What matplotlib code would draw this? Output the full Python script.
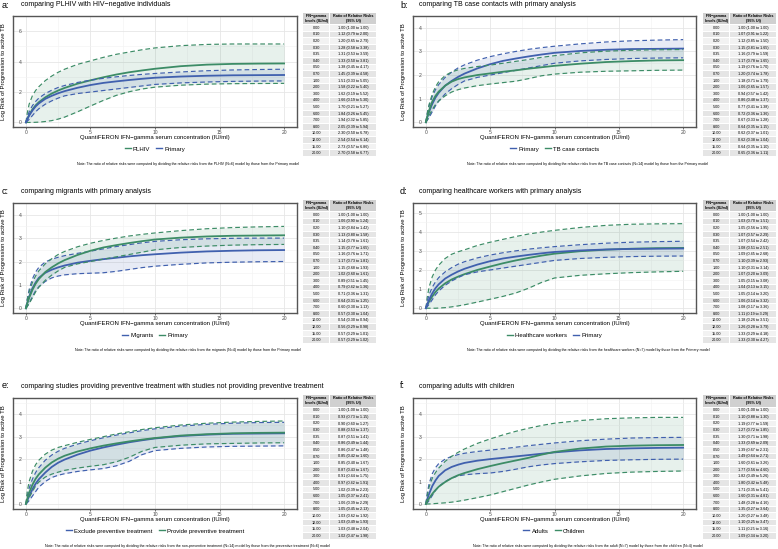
import matplotlib
matplotlib.use('Agg')
from matplotlib import pyplot as plt
from matplotlib.patches import Rectangle
from matplotlib.lines import Line2D

plt.rcParams['font.family'] = ['Liberation Sans', 'DejaVu Sans']

W, H = 778, 549
GREEN = '#3c8c66'
BLUE = '#4060ae'

# x grid (IU/ml) for every curve
conc = [0, 0.1, 0.25, 0.5, 0.75, 1, 1.5, 2, 2.5, 3, 4, 5, 6, 7, 8, 9, 10, 12, 14, 16, 18, 20]

# primary model
primary_fit = [0, 0.2, 0.45, 0.78, 1.05, 1.25, 1.55, 1.75, 1.92, 2.06, 2.28, 2.46, 2.6, 2.7, 2.79, 2.87, 2.94, 3.02, 3.07, 3.1, 3.11, 3.12]
primary_hi = [0, 0.35, 0.7, 1.1, 1.38, 1.6, 1.9, 2.12, 2.3, 2.43, 2.63, 2.78, 2.9, 3.0, 3.09, 3.16, 3.22, 3.32, 3.4, 3.45, 3.48, 3.5]
primary_lo = [0, 0.08, 0.2, 0.45, 0.7, 0.9, 1.2, 1.42, 1.6, 1.75, 1.9, 2.0, 2.1, 2.2, 2.3, 2.4, 2.5, 2.6, 2.66, 2.7, 2.72, 2.73]

# a: PLHIV
plhiv_fit = [0, 0.22, 0.5, 0.85, 1.12, 1.33, 1.65, 1.9, 2.1, 2.27, 2.55, 2.77, 2.97, 3.15, 3.3, 3.42, 3.53, 3.7, 3.8, 3.85, 3.87, 3.88]
plhiv_hi = [0, 0.6, 1.2, 1.75, 2.1, 2.35, 2.75, 3.05, 3.3, 3.5, 3.82, 4.05, 4.28, 4.48, 4.63, 4.78, 4.9, 5.05, 5.13, 5.16, 5.16, 5.16]
plhiv_lo = [0, 0, 0, 0, 0.01, 0.02, 0.06, 0.12, 0.22, 0.35, 0.7, 1.08, 1.45, 1.78, 2.02, 2.2, 2.32, 2.45, 2.52, 2.55, 2.56, 2.57]

# b: TB case contacts
contacts_fit = [0, 0.22, 0.5, 0.88, 1.12, 1.3, 1.55, 1.72, 1.83, 1.9, 2.0, 2.07, 2.14, 2.2, 2.27, 2.33, 2.39, 2.48, 2.55, 2.59, 2.62, 2.63]
contacts_hi = [0, 0.35, 0.75, 1.2, 1.5, 1.72, 1.98, 2.13, 2.22, 2.28, 2.36, 2.42, 2.5, 2.58, 2.66, 2.75, 2.82, 2.94, 3.01, 3.05, 3.07, 3.08]
contacts_lo = [0, 0.1, 0.28, 0.55, 0.75, 0.9, 1.12, 1.28, 1.38, 1.45, 1.55, 1.62, 1.68, 1.74, 1.85, 1.97, 2.04, 2.12, 2.16, 2.18, 2.2, 2.21]

# c: migrants
migrants_fit = [0, 0.22, 0.5, 0.85, 1.1, 1.3, 1.52, 1.65, 1.75, 1.83, 1.95, 2.03, 2.1, 2.16, 2.22, 2.27, 2.31, 2.38, 2.43, 2.46, 2.48, 2.49]
migrants_hi = [0, 0.38, 0.8, 1.25, 1.55, 1.75, 1.98, 2.1, 2.18, 2.25, 2.35, 2.44, 2.54, 2.64, 2.72, 2.8, 2.86, 2.93, 2.97, 2.99, 3.0, 3.0]
migrants_lo = [0, 0.08, 0.22, 0.5, 0.75, 0.92, 1.15, 1.3, 1.38, 1.43, 1.48, 1.5, 1.52, 1.58, 1.66, 1.74, 1.8, 1.88, 1.94, 1.97, 1.99, 2.0]

# d: healthcare workers
hcw_fit = [0, 0.15, 0.35, 0.62, 0.85, 1.03, 1.3, 1.5, 1.65, 1.78, 2.0, 2.18, 2.35, 2.5, 2.63, 2.75, 2.85, 2.98, 3.06, 3.11, 3.14, 3.15]
hcw_hi = [0, 0.55, 1.1, 1.65, 2.0, 2.25, 2.6, 2.82, 2.95, 3.05, 3.28, 3.45, 3.6, 3.75, 3.88, 3.98, 4.07, 4.22, 4.33, 4.39, 4.41, 4.42]
hcw_lo = [0, 0, 0, 0, 0, 0.01, 0.03, 0.07, 0.12, 0.18, 0.32, 0.47, 0.62, 0.8, 1.05, 1.35, 1.58, 1.72, 1.8, 1.86, 1.9, 1.93]

# e: preventive treatment
exclude_fit = [0, 0.15, 0.35, 0.65, 0.9, 1.1, 1.4, 1.65, 1.84, 1.98, 2.2, 2.38, 2.52, 2.64, 2.75, 2.84, 2.92, 3.03, 3.09, 3.13, 3.14, 3.15]
exclude_hi = [0, 0.35, 0.7, 1.1, 1.4, 1.62, 1.95, 2.18, 2.35, 2.48, 2.67, 2.82, 2.95, 3.07, 3.17, 3.27, 3.35, 3.47, 3.55, 3.6, 3.63, 3.64]
exclude_lo = [0, 0.05, 0.15, 0.35, 0.55, 0.75, 1.0, 1.18, 1.28, 1.35, 1.45, 1.52, 1.58, 1.7, 1.9, 2.2, 2.38, 2.48, 2.54, 2.57, 2.58, 2.59]
provide_fit = [0, 0.22, 0.5, 0.85, 1.12, 1.32, 1.62, 1.85, 2.02, 2.15, 2.34, 2.48, 2.6, 2.7, 2.79, 2.87, 2.94, 3.05, 3.11, 3.15, 3.17, 3.18]
provide_hi = [0, 0.55, 1.0, 1.45, 1.75, 1.95, 2.22, 2.4, 2.52, 2.6, 2.75, 2.88, 3.0, 3.12, 3.22, 3.32, 3.4, 3.52, 3.6, 3.65, 3.68, 3.7]
provide_lo = [0, 0.1, 0.28, 0.55, 0.8, 0.98, 1.2, 1.33, 1.42, 1.5, 1.6, 1.68, 1.75, 1.88, 2.08, 2.35, 2.52, 2.62, 2.68, 2.7, 2.72, 2.73]

# f: adults vs children
adults_fit = [0, 0.2, 0.45, 0.8, 1.05, 1.25, 1.5, 1.65, 1.75, 1.83, 1.93, 2.0, 2.06, 2.12, 2.18, 2.24, 2.3, 2.39, 2.45, 2.48, 2.5, 2.51]
adults_hi = [0, 0.45, 0.9, 1.35, 1.62, 1.8, 2.0, 2.12, 2.2, 2.26, 2.34, 2.4, 2.46, 2.53, 2.6, 2.66, 2.72, 2.82, 2.89, 2.94, 2.96, 2.97]
adults_lo = [0, 0.05, 0.15, 0.38, 0.6, 0.78, 1.0, 1.15, 1.25, 1.3, 1.35, 1.38, 1.45, 1.55, 1.66, 1.74, 1.8, 1.88, 1.94, 1.97, 1.99, 2.0]
children_fit = [0, 0.1, 0.25, 0.45, 0.62, 0.77, 0.98, 1.15, 1.28, 1.38, 1.55, 1.69, 1.82, 1.94, 2.06, 2.2, 2.32, 2.47, 2.56, 2.6, 2.62, 2.63]
children_hi = [0, 0.35, 0.75, 1.15, 1.4, 1.6, 1.9, 2.12, 2.3, 2.45, 2.7, 2.9, 3.08, 3.24, 3.38, 3.5, 3.6, 3.72, 3.8, 3.84, 3.86, 3.86]
children_lo = [0, 0, 0, 0.01, 0.02, 0.03, 0.05, 0.08, 0.12, 0.17, 0.28, 0.4, 0.55, 0.7, 0.85, 0.98, 1.1, 1.25, 1.36, 1.42, 1.45, 1.47]

# tables
levels = ['0.00', '0.10', '0.20', '0.30', '0.35', '0.40', '0.50', '0.70', '1.00', '2.00',
          '3.00', '4.00', '5.00', '6.00', '7.00', '8.00', '10.00', '12.00', '15.00', '20.00']
ratio_a = ['1.00 (1.00 to 1.00)', '1.12 (0.79 to 2.00)', '1.20 (0.65 to 2.79)', '1.28 (0.58 to 3.38)',
           '1.31 (0.53 to 3.59)', '1.33 (0.50 to 3.81)', '1.38 (0.45 to 4.17)', '1.45 (0.39 to 4.58)',
           '1.51 (0.33 to 5.05)', '1.58 (0.22 to 5.40)', '1.62 (0.19 to 5.52)', '1.66 (0.19 to 5.30)',
           '1.70 (0.21 to 5.27)', '1.84 (0.26 to 5.45)', '1.94 (0.32 to 5.85)', '2.05 (0.39 to 5.94)',
           '2.30 (0.50 to 6.78)', '2.54 (0.54 to 6.14)', '2.73 (0.57 to 6.86)', '2.70 (0.58 to 6.77)']
ratio_b = ['1.00 (1.00 to 1.00)', '1.07 (0.91 to 1.22)', '1.12 (0.85 to 1.50)', '1.15 (0.81 to 1.65)',
           '1.16 (0.79 to 1.59)', '1.17 (0.78 to 1.65)', '1.19 (0.76 to 1.70)', '1.20 (0.74 to 1.78)',
           '1.18 (0.71 to 1.79)', '1.06 (0.65 to 1.57)', '0.94 (0.57 to 1.42)', '0.86 (0.48 to 1.37)',
           '0.77 (0.41 to 1.38)', '0.72 (0.36 to 1.36)', '0.67 (0.33 to 1.28)', '0.64 (0.35 to 1.15)',
           '0.62 (0.37 to 1.01)', '0.62 (0.38 to 1.04)', '0.64 (0.35 to 1.10)', '0.65 (0.36 to 1.11)']
ratio_c = ['1.00 (1.00 to 1.00)', '1.06 (0.90 to 1.24)', '1.10 (0.84 to 1.42)', '1.13 (0.80 to 1.58)',
           '1.14 (0.78 to 1.61)', '1.15 (0.77 to 1.65)', '1.16 (0.76 to 1.71)', '1.17 (0.73 to 1.81)',
           '1.15 (0.68 to 1.93)', '1.02 (0.60 to 1.61)', '0.89 (0.51 to 1.45)', '0.79 (0.42 to 1.36)',
           '0.71 (0.36 to 1.31)', '0.64 (0.31 to 1.25)', '0.60 (0.30 to 1.13)', '0.57 (0.30 to 1.04)',
           '0.54 (0.30 to 0.94)', '0.56 (0.29 to 0.98)', '0.57 (0.29 to 1.01)', '0.57 (0.29 to 1.02)']
ratio_d = ['1.00 (1.00 to 1.00)', '1.03 (0.70 to 1.51)', '1.05 (0.56 to 1.95)', '1.07 (0.57 to 2.29)',
           '1.07 (0.54 to 2.42)', '1.08 (0.51 to 2.51)', '1.09 (0.45 to 2.68)', '1.10 (0.39 to 2.93)',
           '1.10 (0.31 to 3.14)', '1.07 (0.20 to 3.09)', '1.05 (0.15 to 3.08)', '1.04 (0.13 to 3.15)',
           '1.05 (0.14 to 3.20)', '1.06 (0.14 to 3.32)', '1.08 (0.17 to 3.36)', '1.11 (0.19 to 3.29)',
           '1.18 (0.26 to 3.51)', '1.26 (0.28 to 3.79)', '1.33 (0.29 to 4.18)', '1.33 (0.30 to 4.27)']
ratio_e = ['1.00 (1.00 to 1.00)', '0.93 (0.73 to 1.15)', '0.90 (0.60 to 1.27)', '0.88 (0.53 to 1.37)',
           '0.87 (0.51 to 1.41)', '0.86 (0.49 to 1.44)', '0.86 (0.47 to 1.48)', '0.85 (0.42 to 1.60)',
           '0.85 (0.40 to 1.67)', '0.87 (0.43 to 1.67)', '0.91 (0.44 to 1.75)', '0.97 (0.42 to 1.91)',
           '1.02 (0.39 to 2.23)', '1.05 (0.37 to 2.41)', '1.06 (0.39 to 2.29)', '1.05 (0.45 to 2.13)',
           '1.03 (0.62 to 1.92)', '1.03 (0.49 to 1.93)', '1.03 (0.48 to 2.04)', '1.02 (0.47 to 1.98)']
ratio_f = ['1.00 (1.00 to 1.00)', '1.10 (0.88 to 1.30)', '1.19 (0.77 to 1.59)', '1.27 (0.72 to 1.85)',
           '1.30 (0.71 to 1.98)', '1.33 (0.69 to 2.09)', '1.39 (0.67 to 2.31)', '1.49 (0.64 to 2.71)',
           '1.60 (0.61 to 3.26)', '1.77 (0.56 to 4.60)', '1.82 (0.49 to 5.26)', '1.80 (0.42 to 5.48)',
           '1.71 (0.35 to 5.41)', '1.60 (0.31 to 4.81)', '1.48 (0.28 to 4.16)', '1.35 (0.27 to 3.64)',
           '1.20 (0.27 to 3.48)', '1.10 (0.25 to 3.47)', '1.11 (0.25 to 3.16)', '1.09 (0.34 to 3.20)']

NOTE = 'Note: The ratio of relative risks were computed by dividing the relative risks from the %s model by those from the %s model'

panels = [
    dict(tag='a:', title='comparing PLHIV with HIV\u2212negative individuals', col=0, row=0,
         ylim=(-0.3, 6.3), yticks=[0, 2, 4, 6],
         series=[('PLHIV', GREEN, plhiv_fit, plhiv_lo, plhiv_hi), ('Primary', BLUE, primary_fit, primary_lo, primary_hi)],
         note=NOTE % ('PLHIV (N=6)', 'Primary'), ratios=ratio_a),
    dict(tag='b:', title='comparing TB case contacts with primary analysis', col=1, row=0,
         ylim=(-0.2, 4.2), yticks=[0, 1, 2, 3, 4],
         series=[('Primary', BLUE, primary_fit, primary_lo, primary_hi), ('TB case contacts', GREEN, contacts_fit, contacts_lo, contacts_hi)],
         note=NOTE % ('TB case contacts (N=14)', 'Primary'), ratios=ratio_b),
    dict(tag='c:', title='comparing migrants with primary analysis', col=0, row=1,
         ylim=(-0.2, 4.2), yticks=[0, 1, 2, 3, 4],
         series=[('Migrants', BLUE, migrants_fit, migrants_lo, migrants_hi), ('Primary', GREEN, primary_fit, primary_lo, primary_hi)],
         note=NOTE % ('migrants (N=4)', 'Primary'), ratios=ratio_c),
    dict(tag='d:', title='comparing healthcare workers with primary analysis', col=1, row=1,
         ylim=(-0.25, 5.25), yticks=[0, 1, 2, 3, 4, 5],
         series=[('Healthcare workers', GREEN, hcw_fit, hcw_lo, hcw_hi), ('Primary', BLUE, primary_fit, primary_lo, primary_hi)],
         note=NOTE % ('healthcare workers (N=7)', 'Primary'), ratios=ratio_d),
    dict(tag='e:', title='comparing studies providing preventive treatment with studies not providing preventive treatment', col=0, row=2,
         ylim=(-0.225, 4.725), yticks=[0, 1, 2, 3, 4],
         series=[('Exclude preventive treatment', BLUE, exclude_fit, exclude_lo, exclude_hi), ('Provide preventive treatment', GREEN, provide_fit, provide_lo, provide_hi)],
         note=NOTE % ('non-preventive treatment (N=14)', 'preventive treatment (N=6)'), ratios=ratio_e),
    dict(tag='f:', title='comparing adults with children', col=1, row=2,
         ylim=(-0.225, 4.725), yticks=[0, 1, 2, 3, 4],
         series=[('Adults', BLUE, adults_fit, adults_lo, adults_hi), ('Children', GREEN, children_fit, children_lo, children_hi)],
         note=NOTE % ('adult (N=7)', 'children (N=4)'), ratios=ratio_f),
]

# layout in pixels
col_left = [13, 413]
col_right = [297, 696]
row_top = [16, 203, 398]
row_bot = [127, 313, 509]
title_y = [5, 191.5, 386]
table_x = [303, 703]
table_top = [12, 199, 394.5]
note_dy = 37

fig = plt.figure(figsize=(W / 100, H / 100), dpi=100)
ov = fig.add_axes([0, 0, 1, 1])
ov.set_xlim(0, W)
ov.set_ylim(H, 0)
ov.axis('off')

for p in panels:
    l, r = col_left[p['col']], col_right[p['col']]
    t, b = row_top[p['row']], row_bot[p['row']]
    ax = fig.add_axes([l / W, 1 - b / H, (r - l) / W, (b - t) / H])
    for name, c, fit, lo, hi in p['series']:
        ax.fill_between(conc, lo, hi, color=c, alpha=0.12, lw=0)
    for name, c, fit, lo, hi in p['series']:
        ax.plot(conc, lo, color=c, lw=0.85, ls=(0, (4, 2.5)))
        ax.plot(conc, hi, color=c, lw=0.85, ls=(0, (4, 2.5)))
        ax.plot(conc, fit, color=c, lw=1.3)
    ax.set_xlim(-1, 21)
    ax.set_ylim(*p['ylim'])
    ax.set_xticks([0, 5, 10, 15, 20])
    ax.set_xticks([2.5, 7.5, 12.5, 17.5], minor=True)
    yt = p['yticks']
    ax.set_yticks(yt)
    ax.set_yticks([v + (yt[1] - yt[0]) / 2 for v in yt], minor=True)
    ax.grid(which='major', color='#e6e6e6', lw=0.6)
    ax.grid(which='minor', color='#f2f2f2', lw=0.4)
    ax.set_axisbelow(True)
    ax.tick_params(axis='x', which='major', labelsize=3.6, length=1.5, width=0.5, color='#333333',
                   labelcolor='#4d4d4d', pad=0.5)
    ax.tick_params(axis='y', which='major', labelsize=3.6, length=0, pad=-6, labelcolor='#4d4d4d')
    ax.tick_params(which='minor', length=0)
    for s in ax.spines.values():
        s.set_color('#555555')
        s.set_linewidth(1.0)

    cx = (l + r) / 2
    ov.text(l - 9.5, (t + b) / 2, 'Log Risk of Progression to active TB', rotation=90,
            ha='center', va='center', fontsize=4.3)
    ov.text(cx, b + 11, 'QuantiFERON IFN\u2212gamma serum concentration (IU/ml)',
            ha='center', va='center', fontsize=4.3)
    handles = [Line2D([], [], color=c, lw=1.0) for _, c, _, _, _ in p['series']]
    names = [s[0] for s in p['series']]
    ax.legend(handles, names, loc='center', bbox_to_anchor=(cx / W, 1 - (b + 22) / H),
              bbox_transform=fig.transFigure, ncol=2, frameon=False, fontsize=4.3,
              handlelength=1.0, handletextpad=0.4, columnspacing=1.0)

    # panel tag and title
    tx = 2 if p['col'] == 0 else 400
    ov.text(tx, title_y[p['row']], p['tag'], ha='left', va='center', fontsize=6.5)
    ov.text(tx + 19, title_y[p['row']], p['title'], ha='left', va='center', fontsize=5)

    # note
    ov.text(188 if p['col'] == 0 else 588, b + note_dy, p['note'], ha='center', va='center', fontsize=2.6)

    # table
    x0 = table_x[p['col']]
    x1 = x0 + 74
    xs = x0 + 27
    top = table_top[p['row']]
    hh, rh = 12.5, 6.6
    for (a0, a1) in [(x0, xs), (xs, x1)]:
        ov.add_patch(Rectangle((a0 + 0.5, top + 0.5), a1 - a0 - 1, hh - 1, color='#d0d0d0', lw=0))
    ov.text((x0 + xs) / 2, top + hh / 2, 'IFN\u2212gamma\nlevels (IU/ml)', ha='center', va='center',
            fontsize=2.7, fontweight='bold', linespacing=1.3)
    ov.text((xs + x1) / 2, top + hh / 2, 'Ratio of Relative Risks\n(95% UI)', ha='center', va='center',
            fontsize=2.7, fontweight='bold', linespacing=1.3)
    for i, (lev, rat) in enumerate(zip(levels, p['ratios'])):
        y0 = top + hh + i * rh
        fc = '#f2f2f2' if i % 2 == 0 else '#e5e5e5'
        for (a0, a1) in [(x0, xs), (xs, x1)]:
            ov.add_patch(Rectangle((a0 + 0.5, y0 + 0.5), a1 - a0 - 1, rh - 1, color=fc, lw=0))
        ov.text((x0 + xs) / 2, y0 + rh / 2, lev, ha='center', va='center', fontsize=2.7)
        ov.text((xs + x1) / 2, y0 + rh / 2, rat, ha='center', va='center', fontsize=2.7)

fig.savefig('out.png', dpi=100)
